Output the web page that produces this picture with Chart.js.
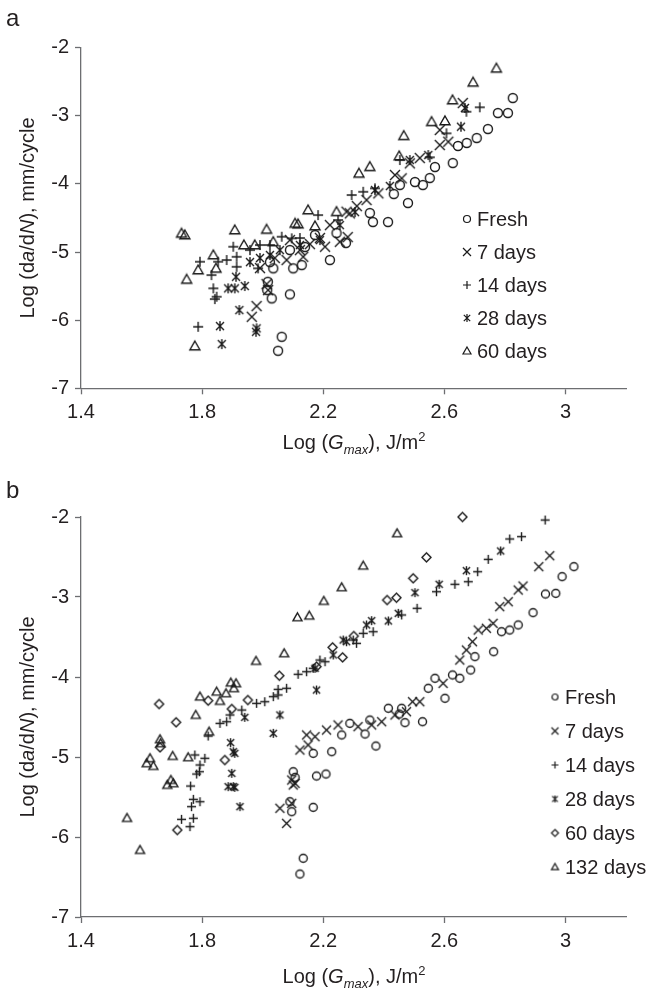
<!DOCTYPE html>
<html>
<head>
<meta charset="utf-8">
<script src="https://cdn.jsdelivr.net/npm/chart.js@4.4.1/dist/chart.umd.min.js"></script>
<style>
  body { margin: 0; background: #fff; font-family: "Liberation Sans", Arial, sans-serif; color: #231f20; }
  #wrap { position: relative; width: 666px; height: 993px; overflow: hidden; }
  canvas { position: absolute; left: 0; }
  .panel { position: absolute; font-size: 24px; line-height: 1; }
  .xt, .yt { position: absolute; font-size: 20px; line-height: 1; white-space: nowrap; }
  .yt { transform: translate(-50%, -50%) rotate(-90deg); }
  .xt { transform: translateX(-50%); }
  sub, sup { font-size: 13px; line-height: 0; }
</style>
</head>
<body>
<div id="wrap">
  <canvas id="chartA" width="666" height="470" style="top:0"></canvas>
  <canvas id="chartB" width="666" height="523" style="top:470px"></canvas>

  <div class="panel" style="left:6px; top:6px">a</div>
  <div class="yt" style="left:27px; top:218px">Log (d<i>a</i>/d<i>N</i>), mm/cycle</div>
  <div class="xt" style="left:354px; top:432px">Log (<i>G<sub>max</sub></i>), J/m<sup>2</sup></div>

  <div class="panel" style="left:6px; top:478px">b</div>
  <div class="yt" style="left:27px; top:717px">Log (d<i>a</i>/d<i>N</i>), mm/cycle</div>
  <div class="xt" style="left:354px; top:966px">Log (<i>G<sub>max</sub></i>), J/m<sup>2</sup></div>
</div>

<script>
// axis ticks (both panels share them)
const xTicks = [1.4, 1.8, 2.2, 2.6, 3];
const yTicks = [-2, -3, -4, -5, -6, -7];
const xMin = 1.4, xMax = 3.2, yMin = -7, yMax = -2;

// ---- panel a : Log(Gmax) vs Log(da/dN) ----
const freshA = [
  [2.826,-2.739],[2.777,-2.959],[2.810,-2.959],[2.744,-3.194],[2.707,-3.326],[2.674,-3.399],
  [2.645,-3.443],[2.628,-3.693],[2.569,-3.752],[2.552,-3.913],[2.503,-3.972],[2.529,-4.016],
  [2.453,-4.016],[2.433,-4.148],[2.480,-4.280],[2.414,-4.559],[2.364,-4.559],[2.354,-4.427],
  [2.275,-4.867],[2.244,-4.721],[2.173,-4.750],[2.140,-4.926],[2.222,-5.117],[2.090,-4.970],
  [2.129,-5.191],[2.101,-5.239],[2.035,-5.239],[2.015,-5.558],[2.030,-5.680],[2.090,-5.621],
  [2.063,-6.244],[2.051,-6.449],[2.024,-5.147],[2.017,-5.436]
];
const days7A = [
  [2.661,-2.812],[2.585,-3.208],[2.613,-3.380],[2.585,-3.429],[2.519,-3.620],[2.486,-3.698],
  [2.459,-3.918],[2.437,-3.869],[2.382,-4.138],[2.343,-4.236],[2.288,-4.432],[2.277,-4.408],
  [2.281,-4.780],[2.255,-4.849],[2.206,-4.922],[2.189,-4.794],[2.156,-4.883],[2.123,-4.971],
  [2.090,-4.824],[2.134,-5.069],[2.079,-5.117],[2.040,-5.088],[1.991,-5.235],[2.013,-5.470],
  [2.018,-5.558],[1.980,-5.793],[1.964,-5.950],[2.311,-4.325],[2.222,-4.604]
];
const days14A = [
  [2.717,-2.875],[2.673,-2.940],[2.607,-3.257],[2.552,-3.609],[2.453,-3.649],[2.371,-4.065],
  [2.332,-4.115],[2.294,-4.163],[2.249,-4.530],[2.183,-4.457],[2.123,-4.794],[2.096,-4.799],
  [2.063,-4.775],[2.024,-4.897],[1.991,-4.897],[1.958,-4.971],[1.914,-5.069],[1.903,-4.922],
  [1.881,-5.117],[1.853,-5.142],[1.793,-5.142],[1.914,-5.216],[1.985,-5.239],[1.831,-5.338],
  [1.837,-5.533],[1.848,-5.656],[1.842,-5.690],[1.787,-6.097]
];
const days28A = [
  [2.668,-2.885],[2.655,-3.160],[2.547,-3.576],[2.486,-3.649],[2.420,-4.031],[2.371,-4.090],
  [2.305,-4.413],[2.255,-4.604],[2.189,-4.824],[2.123,-4.897],[2.057,-4.971],[2.024,-5.044],
  [1.991,-5.088],[1.958,-5.147],[1.912,-5.363],[1.941,-5.499],[1.886,-5.533],[1.908,-5.533],
  [1.923,-5.852],[1.980,-6.120],[1.978,-6.170],[1.859,-6.087],[1.865,-6.351]
];
const days60A = [
  [2.772,-2.302],[2.695,-2.508],[2.627,-2.768],[2.602,-3.076],[2.558,-3.087],[2.466,-3.292],
  [2.451,-3.590],[2.354,-3.747],[2.318,-3.844],[2.244,-4.408],[2.150,-4.383],[2.173,-4.618],
  [2.117,-4.589],[2.107,-4.579],[2.035,-4.849],[2.013,-4.667],[1.974,-4.897],[1.938,-4.897],
  [1.908,-4.677],[1.846,-5.239],[1.837,-5.044],[1.787,-5.264],[1.749,-5.401],[1.732,-4.725],
  [1.743,-4.750],[1.776,-6.380]
];

// ---- panel b ----
const freshB = [
  [3.028,-2.621],[2.989,-2.746],[2.934,-2.963],[2.968,-2.954],[2.893,-3.196],[2.844,-3.350],
  [2.816,-3.413],[2.789,-3.434],[2.763,-3.684],[2.701,-3.746],[2.687,-3.913],[2.651,-4.016],
  [2.627,-3.975],[2.602,-4.266],[2.569,-4.016],[2.547,-4.141],[2.459,-4.391],[2.415,-4.391],
  [2.451,-4.463],[2.470,-4.571],[2.528,-4.559],[2.354,-4.538],[2.338,-4.713],[2.288,-4.579],
  [2.261,-4.725],[2.374,-4.863],[2.228,-4.934],[2.167,-4.954],[2.178,-5.238],[2.209,-5.213],
  [2.101,-5.184],[2.107,-5.254],[2.090,-5.559],[2.096,-5.684],[2.167,-5.629],[2.134,-6.266],
  [2.123,-6.463]
];
const days7B = [
  [2.948,-2.484],[2.912,-2.621],[2.860,-2.863],[2.844,-2.913],[2.811,-3.059],[2.783,-3.121],
  [2.761,-3.329],[2.739,-3.391],[2.712,-3.413],[2.693,-3.559],[2.673,-3.663],[2.651,-3.788],
  [2.596,-4.079],[2.519,-4.309],[2.495,-4.309],[2.475,-4.434],[2.437,-4.475],[2.393,-4.559],
  [2.360,-4.600],[2.315,-4.621],[2.249,-4.600],[2.211,-4.663],[2.173,-4.746],[2.145,-4.725],
  [2.150,-4.850],[2.123,-4.913],[2.096,-5.288],[2.107,-5.329],[2.101,-5.350],[2.096,-5.579],
  [2.057,-5.641],[2.079,-5.829]
];
const days14B = [
  [2.933,-2.038],[2.855,-2.246],[2.816,-2.275],[2.745,-2.529],[2.710,-2.684],[2.679,-2.809],
  [2.635,-2.841],[2.574,-2.934],[2.510,-3.141],[2.459,-3.225],[2.365,-3.434],[2.332,-3.454],
  [2.310,-3.579],[2.299,-3.538],[2.206,-3.809],[2.189,-3.788],[2.167,-3.891],[2.145,-3.934],
  [2.117,-3.966],[2.079,-4.141],[2.051,-4.154],[2.051,-4.225],[2.035,-4.246],[2.007,-4.309],
  [1.980,-4.329],[1.931,-4.413],[1.892,-4.475],[1.881,-4.559],[1.859,-4.579],[1.820,-4.738],
  [1.776,-4.975],[1.809,-5.016],[1.793,-5.100],[1.791,-5.184],[1.782,-5.213],[1.762,-5.363],
  [1.771,-5.529],[1.793,-5.559],[1.765,-5.621],[1.771,-5.766],[1.732,-5.779],[1.760,-5.871]
];
const days28B = [
  [2.786,-2.425],[2.673,-2.671],[2.583,-2.841],[2.503,-2.946],[2.448,-3.204],[2.415,-3.300],
  [2.360,-3.296],[2.343,-3.350],[2.277,-3.559],[2.266,-3.538],[2.233,-3.725],[2.173,-3.891],
  [2.178,-4.163],[2.057,-4.475],[2.035,-4.704],[1.941,-4.504],[1.894,-4.821],[1.903,-4.934],
  [1.908,-4.954],[1.898,-5.204],[1.886,-5.371],[1.903,-5.371],[1.908,-5.379],[1.925,-5.621]
];
const days60B = [
  [2.660,-2.000],[2.541,-2.504],[2.497,-2.766],[2.442,-3.009],[2.411,-3.038],[2.301,-3.488],
  [2.264,-3.754],[2.231,-3.629],[2.178,-3.871],[2.055,-3.984],[1.951,-4.288],[1.898,-4.400],
  [1.820,-4.296],[1.875,-5.038],[1.658,-4.338],[1.714,-4.566],[1.661,-4.879],[1.718,-5.913]
];
const days132B = [
  [2.444,-2.204],[2.332,-2.609],[2.261,-2.879],[2.202,-3.050],[2.154,-3.234],[2.115,-3.254],
  [2.071,-3.704],[1.978,-3.800],[1.895,-4.071],[1.912,-4.079],[1.905,-4.141],[1.879,-4.204],
  [1.848,-4.184],[1.859,-4.300],[1.793,-4.246],[1.779,-4.475],[1.823,-4.684],[1.661,-4.779],
  [1.663,-4.829],[1.703,-4.988],[1.754,-5.004],[1.628,-5.016],[1.617,-5.079],[1.639,-5.113],
  [1.697,-5.288],[1.685,-5.350],[1.705,-5.329],[1.552,-5.763],[1.595,-6.163]
];

const labelsA = ['Fresh', '7 days', '14 days', '28 days', '60 days'];
const labelsB = ['Fresh', '7 days', '14 days', '28 days', '60 days', '132 days'];

const INK = '#231f20';
const MARK = '#1a1a1a';
const AXIS = '#6d6e71';
const FONT = '"Liberation Sans", Arial, sans-serif';

// open markers drawn once into small canvases, Excel style
function marker(kind, s, lw) {
  const c = document.createElement('canvas');
  const n = s + 4;
  c.width = n; c.height = n;
  const g = c.getContext('2d');
  const m = n / 2, r = s / 2;
  g.strokeStyle = MARK; g.lineWidth = lw; g.lineCap = 'butt'; g.lineJoin = 'miter';
  g.beginPath();
  if (kind === 'circle') {
    g.arc(m, m, r - 0.5, 0, Math.PI * 2);
  } else if (kind === 'x') {
    g.moveTo(m - r, m - r); g.lineTo(m + r, m + r);
    g.moveTo(m + r, m - r); g.lineTo(m - r, m + r);
  } else if (kind === 'plus') {
    g.moveTo(m - r, m); g.lineTo(m + r, m);
    g.moveTo(m, m - r); g.lineTo(m, m + r);
  } else if (kind === 'star') {
    const k = r * 0.8;
    g.moveTo(m - k, m - k); g.lineTo(m + k, m + k);
    g.moveTo(m + k, m - k); g.lineTo(m - k, m + k);
    g.moveTo(m, m - r); g.lineTo(m, m + r);
  } else if (kind === 'diamond') {
    g.moveTo(m, m - r); g.lineTo(m + r, m); g.lineTo(m, m + r); g.lineTo(m - r, m); g.closePath();
  } else if (kind === 'triangle') {
    g.moveTo(m, m - r); g.lineTo(m + r, m + r * 0.75); g.lineTo(m - r, m + r * 0.75); g.closePath();
  }
  g.stroke();
  return c;
}

const kindsA = ['circle', 'x', 'plus', 'star', 'triangle'];
const kindsB = ['circle', 'x', 'plus', 'star', 'diamond', 'triangle'];

function makeSets(series, labels, kinds, size) {
  return series.map((pts, i) => ({
    label: labels[i],
    data: pts.map(p => ({ x: p[0], y: p[1] })),
    pointStyle: marker(kinds[i], size, 1.4),
    legendMarker: marker(kinds[i], size - 2, 1.2),
    showLine: false,
    clip: false
  }));
}

// legend drawn inside the plot, right side
const sideLegend = {
  id: 'sideLegend',
  afterDraw(chart, args, o) {
    const ctx = chart.ctx;
    ctx.save();
    ctx.font = '20px ' + FONT;
    ctx.fillStyle = INK;
    ctx.textBaseline = 'middle';
    chart.data.datasets.forEach((ds, i) => {
      const y = o.y + i * o.gap;
      const m = ds.legendMarker;
      ctx.drawImage(m, o.mx - m.width / 2, y - m.height / 2);
      ctx.fillText(ds.label, o.tx, y + 1);
    });
    ctx.restore();
  }
};

function axis(min, max, ticks, extra) {
  return Object.assign({
    type: 'linear', min, max,
    afterBuildTicks: s => { s.ticks = ticks.map(v => ({ value: v })); },
    ticks: { color: INK, font: { family: FONT, size: 20 }, callback: v => String(v), padding: 6 },
    grid: { drawOnChartArea: false, drawTicks: true, tickLength: 6, tickColor: AXIS, tickWidth: 1.3 },
    border: { display: true, color: AXIS, width: 1.3 }
  }, extra);
}

function build(id, sets, h, top, bottom, leg) {
  new Chart(document.getElementById(id), {
    type: 'scatter',
    data: { datasets: sets },
    options: {
      responsive: false, animation: false, events: [],
      layout: { padding: { left: 0, top: top, right: 666 - 626, bottom: 0 } },
      plugins: { legend: { display: false }, tooltip: { enabled: false }, sideLegend: leg },
      scales: {
        x: axis(xMin, xMax, xTicks, { afterFit: s => { s.height = h - bottom; } }),
        y: axis(yMin, yMax, yTicks, { afterFit: s => { s.width = 81; } })
      }
    },
    plugins: [sideLegend]
  });
}

build('chartA', makeSets([freshA, days7A, days14A, days28A, days60A], labelsA, kindsA, 10),
  470, 47.7, 388.3, { mx: 467, tx: 477, y: 219, gap: 33 });
build('chartB', makeSets([freshB, days7B, days14B, days28B, days60B, days132B], labelsB, kindsB, 9),
  523, 47, 447, { mx: 555, tx: 565, y: 227, gap: 34 });
</script>
</body>
</html>
